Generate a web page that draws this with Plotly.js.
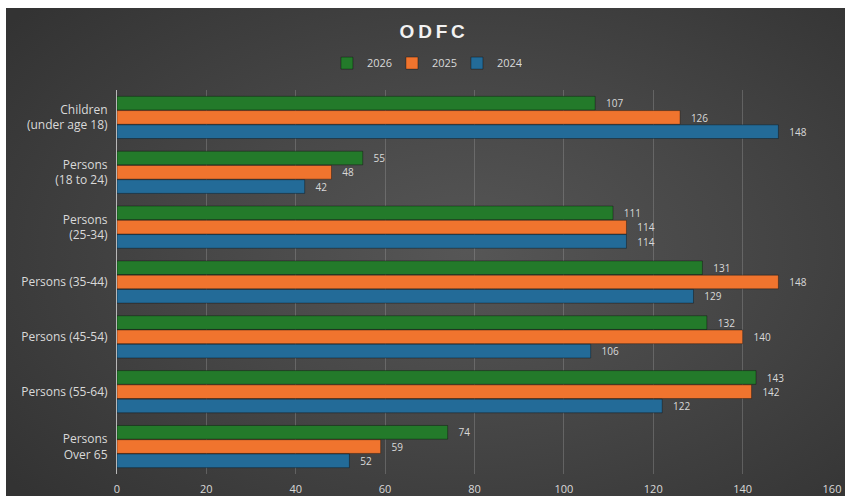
<!DOCTYPE html>
<html>
<head>
<meta charset="utf-8">
<script src="https://cdn.plot.ly/plotly-3.0.1.min.js"></script>
<style>
  html, body { margin: 0; padding: 0; background: #ffffff; width: 845px; height: 496px; overflow: hidden; }
  #wrap { position: absolute; left: 6px; top: 8px; width: 839px; height: 488px;
          background: radial-gradient(ellipse 70% 75% at 55% 50%, #565656 0%, #474747 45%, #333333 100%); }
  #chart { width: 839px; height: 488px; }
</style>
</head>
<body>
<div id="wrap"><div id="chart"></div></div>
<script>
const categories = [
  "Children<br>(under age 18)",
  "Persons<br>(18 to 24)",
  "Persons<br>(25-34)",
  "Persons (35-44)",
  "Persons (45-54)",
  "Persons (55-64)",
  "Persons<br>Over 65"
];
const values2026 = [107, 55, 111, 131, 132, 143, 74];
const values2025 = [126, 48, 114, 148, 140, 142, 59];
const values2024 = [148, 42, 114, 129, 106, 122, 52];
const xTicks = [0, 20, 40, 60, 80, 100, 120, 140, 160];

const labelFont = { family: "Open Sans, Liberation Sans, sans-serif", size: 11, color: "#d9d9d9" };
const catFont = { family: "Open Sans, Liberation Sans, sans-serif", size: 12, color: "#d9d9d9" };

function mk(name, vals, color) {
  return {
    type: "bar", orientation: "h", name: name,
    y: categories, x: vals,
    marker: { color: color, line: { color: "rgba(0,0,0,0.35)", width: 1 } },
    text: vals.map(v => String(v)),
    texttemplate: "   %{text}",
    textposition: "outside",
    textfont: labelFont,
    cliponaxis: false,
    hoverinfo: "skip"
  };
}

const data = [
  mk("2026", values2026, "#237a2a"),
  mk("2025", values2025, "#f0742e"),
  mk("2024", values2024, "#236b98")
];

const layout = {
  width: 839, height: 488,
  paper_bgcolor: "rgba(0,0,0,0)",
  plot_bgcolor: "rgba(0,0,0,0)",
  margin: { l: 111, r: 13, t: 82, b: 22 },
  title: {
    text: "<b>O\u2009D\u2009F\u2009C</b>",
    font: { family: "Liberation Sans, Arial, sans-serif", size: 19, color: "#f2f2f2" },
    x: 0.508, xanchor: "center", y: 0.952, yanchor: "middle"
  },
  showlegend: true,
  legend: {
    orientation: "h", x: 0.43, xanchor: "center", y: 1.07, yanchor: "middle",
    font: labelFont, itemwidth: 30, traceorder: "normal",
    entrywidth: 20, entrywidthmode: "pixels",
    bgcolor: "rgba(0,0,0,0)"
  },
  barmode: "group",
  bargap: 0.22,
  bargroupgap: 0.04,
  xaxis: {
    range: [0, 160], tickvals: xTicks, ticktext: xTicks.map(String),
    showgrid: true, gridcolor: "rgba(160,160,160,0.35)", gridwidth: 1,
    zeroline: false, showline: false,
    ticks: "outside", ticklen: 5, tickcolor: "rgba(0,0,0,0)",
    tickfont: labelFont, fixedrange: true
  },
  yaxis: {
    autorange: "reversed", type: "category",
    showgrid: false, zeroline: false,
    showline: true, linecolor: "#b8b8b8", linewidth: 1,
    ticks: "outside", ticklen: 6, tickcolor: "rgba(0,0,0,0)",
    tickfont: catFont, fixedrange: true
  }
};

Plotly.newPlot("chart", data, layout, { displayModeBar: false, staticPlot: true });
</script>
</body>
</html>
